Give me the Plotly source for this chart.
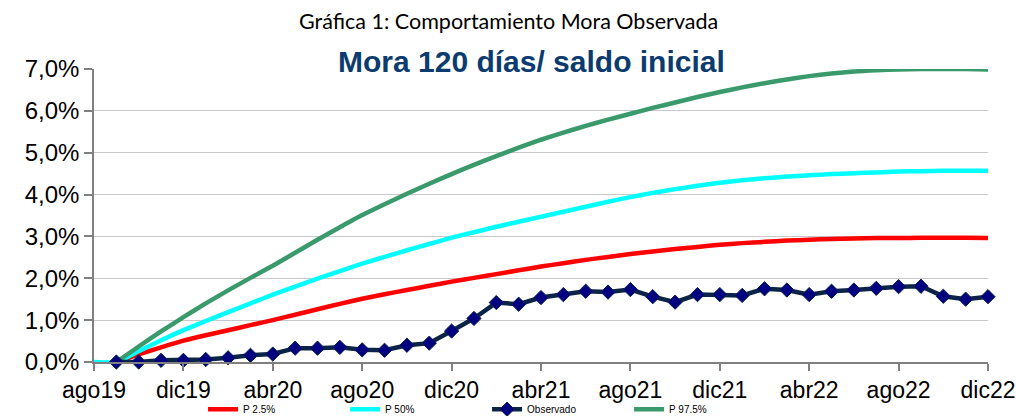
import plotly.graph_objects as go

# Monthly categories ago19 .. dic22
month_names = ["ene", "feb", "mar", "abr", "may", "jun", "jul", "ago", "sep", "oct", "nov", "dic"]
months = []
for yr in (19, 20, 21, 22):
    for i, m in enumerate(month_names):
        if yr == 19 and i < 7:
            continue
        months.append(f"{m}{yr}")

tick_labels = months[::4]

# Values in percent
p025 = [None, 0.00, 0.18, 0.35, 0.51, 0.64, 0.76, 0.88, 1.00, 1.13, 1.26, 1.39, 1.51,
        1.62, 1.72, 1.82, 1.92, 2.01, 2.10, 2.19, 2.28, 2.36, 2.44, 2.51, 2.58,
        2.64, 2.70, 2.75, 2.80, 2.84, 2.87, 2.90, 2.92, 2.94, 2.95, 2.96, 2.96,
        2.97, 2.97, 2.97, 2.96]
p50 = [0.00, 0.00, 0.26, 0.52, 0.76, 0.98, 1.19, 1.40, 1.61, 1.80, 1.99, 2.17, 2.35,
       2.51, 2.67, 2.82, 2.97, 3.10, 3.23, 3.35, 3.47, 3.59, 3.71, 3.83, 3.94,
       4.04, 4.13, 4.21, 4.28, 4.34, 4.39, 4.43, 4.46, 4.49, 4.51, 4.53, 4.55,
       4.56, 4.57, 4.57, 4.57]
p975 = [None, 0.00, 0.37, 0.73, 1.07, 1.40, 1.71, 2.01, 2.30, 2.61, 2.92, 3.22, 3.51,
        3.77, 4.02, 4.26, 4.49, 4.71, 4.92, 5.12, 5.31, 5.48, 5.64, 5.79, 5.93,
        6.07, 6.20, 6.33, 6.45, 6.56, 6.66, 6.75, 6.83, 6.89, 6.94, 6.97, 6.99,
        7.00, 7.00, 7.00, 6.99]
observado = [None, 0.00, 0.00, 0.04, 0.04, 0.06, 0.10, 0.16, 0.19, 0.33, 0.33, 0.35, 0.29,
             0.28, 0.40, 0.45, 0.74, 1.04, 1.42, 1.38, 1.54, 1.61, 1.69, 1.67, 1.73,
             1.56, 1.43, 1.61, 1.61, 1.59, 1.75, 1.72, 1.61, 1.69, 1.72, 1.76, 1.80,
             1.81, 1.57, 1.50, 1.56]

fig = go.Figure()
fig.add_trace(go.Scatter(x=months, y=p025, name="P 2.5%", mode="lines",
                         line=dict(color="#FF0000", width=4.5, shape="spline", smoothing=0.5),
                         cliponaxis=False, legendrank=1))
fig.add_trace(go.Scatter(x=months, y=p50, name="P 50%", mode="lines",
                         line=dict(color="#00FFFF", width=4.5, shape="spline", smoothing=0.5),
                         cliponaxis=False, legendrank=2))
fig.add_trace(go.Scatter(x=months, y=p975, name="P 97.5%", mode="lines",
                         line=dict(color="#3A9A6B", width=4.5, shape="spline", smoothing=0.5),
                         cliponaxis=False, legendrank=4))
fig.add_trace(go.Scatter(x=months, y=observado, name="Observado", mode="lines+markers",
                         line=dict(color="#0B2347", width=4.5),
                         marker=dict(symbol="diamond", size=11, color="#000080",
                                     line=dict(color="#0B2347", width=1)),
                         cliponaxis=False, legendrank=3))

fig.update_layout(
    width=1016, height=416,
    margin=dict(l=94, r=28, t=69, b=54, autoexpand=False),
    paper_bgcolor="white", plot_bgcolor="white",
    separators=",.",
    font=dict(family="Liberation Sans, Arial, sans-serif", color="#000000"),
    showlegend=True,
    legend=dict(orientation="h", x=0.122, xanchor="left", y=-0.161, yanchor="middle",
                font=dict(size=10, family="Liberation Sans, Arial, sans-serif"),
                entrywidth=97, entrywidthmode="pixels", traceorder="normal",
                bgcolor="rgba(0,0,0,0)"),
)
fig.update_xaxes(
    type="category", range=[0, 40], tickmode="array", tickvals=tick_labels, ticktext=tick_labels,
    showgrid=False, showline=True, linecolor="#808080", linewidth=1.5,
    ticks="outside", ticklen=7, tickcolor="#808080", tickwidth=1.5,
    tickfont=dict(size=23, family="Liberation Sans, Arial, sans-serif", color="#000000"),
    zeroline=False,
)
fig.update_yaxes(
    range=[0, 7], dtick=1, tickformat=".1f", ticksuffix="%",
    showgrid=True, gridcolor="#C8C8C8", gridwidth=1,
    showline=True, linecolor="#808080", linewidth=1.5,
    ticks="outside", ticklen=8, tickcolor="#808080", tickwidth=1.5,
    tickfont=dict(size=24, family="Liberation Sans, Arial, sans-serif", color="#000000"),
    zeroline=False,
)

fig.add_annotation(text="Gráfica 1: Comportamiento Mora Observada", xref="paper", yref="paper",
                   x=(508 - 94) / 894, y=(362 - 21) / 293, xanchor="center", yanchor="middle",
                   showarrow=False, font=dict(size=21.5, family="Lato, Liberation Sans, sans-serif", color="#000000"))
fig.add_annotation(text="<b>Mora 120 días/ saldo inicial</b>", xref="paper", yref="paper",
                   x=(531 - 94) / 894, y=(362 - 61) / 293, xanchor="center", yanchor="middle",
                   showarrow=False, font=dict(size=30, family="Liberation Sans, Arial, sans-serif", color="#0B3B6F"))

fig.write_html("out.html", config={"displayModeBar": False},
               post_script="document.body.style.margin='0';document.body.style.overflow='hidden';")
